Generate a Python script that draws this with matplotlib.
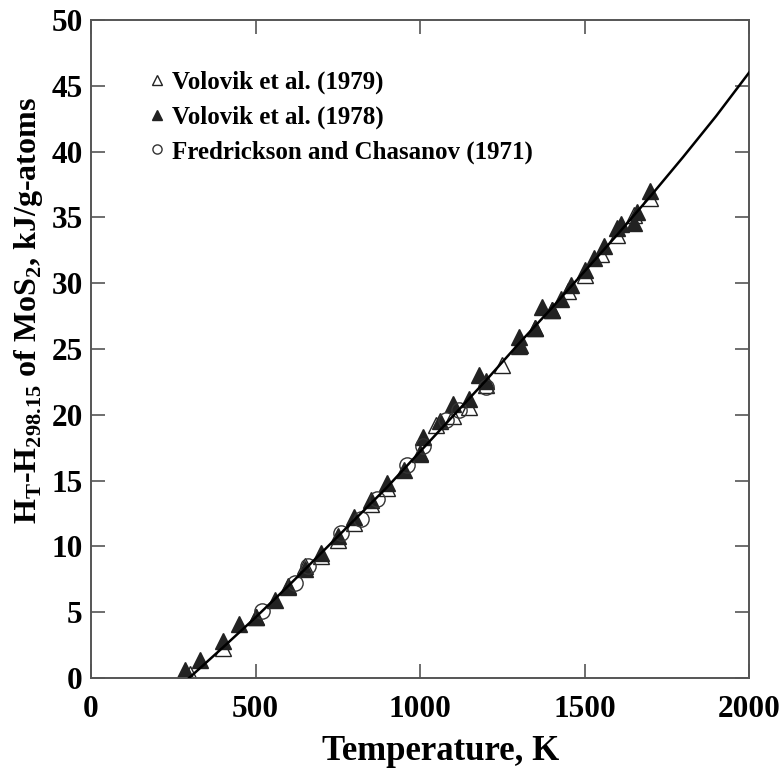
import numpy as np
import matplotlib.pyplot as plt

plt.rcParams['font.family'] = 'Liberation Serif'
plt.rcParams['font.weight'] = 'bold'

# fitted curve
line_T = [298.15, 400, 500, 600, 700, 800, 900, 1000, 1100, 1200, 1300, 1400, 1500, 1600, 1700, 1800, 1900, 2000]
line_H = [0, 2.3, 4.6, 7.0, 9.5, 12.0, 14.5, 17.2, 19.9, 22.6, 25.4, 28.1, 30.9, 33.7, 36.6, 39.6, 42.7, 46.0]

# Volovik et al. (1979) - open triangles
v79_T = [300, 400, 500, 600, 650, 700, 750, 800, 850, 900, 1000, 1050, 1100, 1150, 1200, 1250,
         1300, 1350, 1400, 1450, 1500, 1550, 1600, 1650, 1700]
v79_H = [0.3, 2.3, 4.6, 6.9, 8.5, 9.3, 10.5, 11.8, 13.2, 14.4, 17.1, 19.2, 19.9, 20.6, 22.3, 23.8,
         25.2, 26.6, 28.0, 29.4, 30.6, 32.2, 33.7, 35.2, 36.5]

# Volovik et al. (1978) - filled triangles
v78_T = [285, 330, 400, 450, 500, 560, 600, 650, 700, 750, 800, 850, 900, 950, 1000, 1010, 1060,
         1100, 1150, 1180, 1200, 1300, 1305, 1350, 1370, 1400, 1430, 1460, 1500, 1530, 1560,
         1600, 1610, 1650, 1660, 1700]
v78_H = [0.6, 1.4, 2.8, 4.1, 4.6, 5.9, 7.0, 8.3, 9.5, 10.8, 12.2, 13.5, 14.8, 15.8, 17.0, 18.3, 19.5,
         20.8, 21.2, 23.0, 22.6, 25.9, 25.3, 26.6, 28.2, 28.0, 28.8, 29.9, 31.0, 31.9, 32.8,
         34.2, 34.5, 34.6, 35.4, 37.0]

# Fredrickson and Chasanov (1971) - open circles
fc_T = [520, 620, 660, 760, 820, 870, 960, 1010, 1080, 1120, 1200]
fc_H = [5.1, 7.2, 8.5, 11.0, 12.1, 13.6, 16.2, 17.6, 19.6, 20.4, 22.1]

fig = plt.figure(figsize=(7.82, 7.72), dpi=100)
ax = fig.add_axes([0.1164, 0.1218, 0.8414, 0.8522])

ax.plot(v79_T, v79_H, '^', ms=12, mfc='white', mec='#222222', mew=1.0, label='Volovik et al. (1979)')
ax.plot(v78_T, v78_H, '^', ms=12, mfc='#222222', mec='#222222', label='Volovik et al. (1978)')
ax.plot(fc_T, fc_H, 'o', ms=11, mfc='none', mec='#333333', mew=1.0,
        label='Fredrickson and Chasanov (1971)')
ax.plot(line_T, line_H, '-', color='black', lw=1.8, zorder=5)

ax.set_xlim(0, 2000)
ax.set_ylim(0, 50)
ax.set_xticks(np.arange(0, 2001, 500))
ax.set_yticks(np.arange(0, 51, 5))
ax.tick_params(direction='in', length=10, width=1.2, color='#555555', labelsize=22.5,
               top=True, right=True, pad=6)
ax.tick_params(axis='x', pad=12)
for s in ax.spines.values():
    s.set_color('#555555')
    s.set_linewidth(1.4)

ax.set_xlabel('Temperature, K', fontsize=25, fontweight='bold')
ax.set_ylabel(r'H$_\mathregular{T}$-H$_\mathregular{298.15}$ of MoS$_\mathregular{2}$, kJ/g-atoms',
              fontsize=23, fontweight='bold')
ax.xaxis.set_label_coords(0.532, -0.087)
ax.yaxis.set_label_coords(-0.070, 0.559)

ax.legend(loc='upper left', bbox_to_anchor=(0.055, 0.957), frameon=False, markerscale=0.6,
          handlelength=0.6, handletextpad=0.3, labelspacing=0.45,
          prop={'family': 'Liberation Serif', 'weight': 'bold', 'size': 18})

fig.savefig('out.png', dpi=100)
